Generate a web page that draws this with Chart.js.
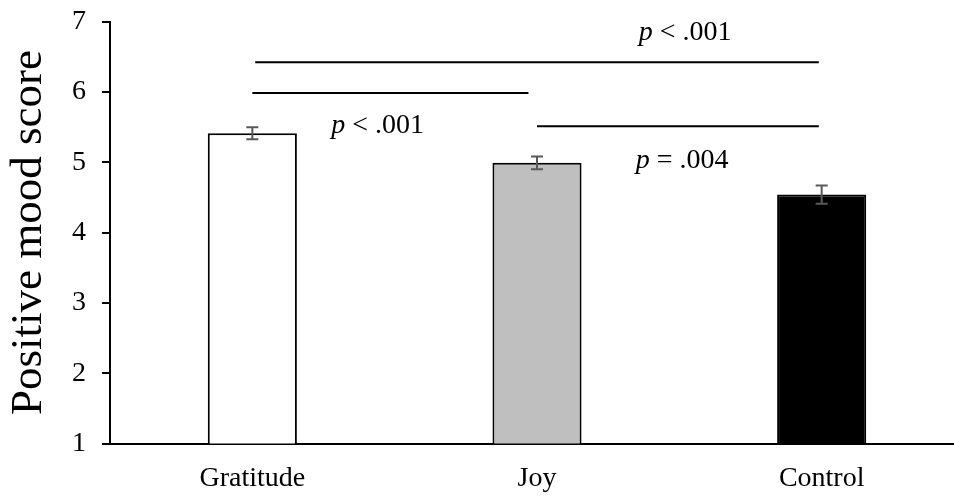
<!DOCTYPE html>
<html>
<head>
<meta charset="utf-8">
<script src="https://cdn.jsdelivr.net/npm/chart.js@4.4.1/dist/chart.umd.min.js"></script>
<style>
  html, body { margin: 0; padding: 0; background: #fff; overflow: hidden; }
  #wrap { position: relative; width: 964px; height: 496px; }
</style>
</head>
<body>
<div id="wrap"><canvas id="moodChart"></canvas></div>
<script>
const categories = ["Gratitude", "Joy", "Control"];
const meanScores = [5.41, 4.99, 4.54];
const errorMargins = [0.085, 0.09, 0.13];
const barFills = ["#ffffff", "#bfbfbf", "#000000"];
const yTicks = [1, 2, 3, 4, 5, 6, 7];

// comparison brackets: ends in category units, height in score units
const bracketFrom = [0.01, 0, 1];
const bracketTo = [1.99, 0.97, 1.99];
const bracketLevel = [6.42, 5.985, 5.51];

// significance labels (the leading "p" is set in italics)
const pLabels = ["< .001", "< .001", "= .004"];
const pLabelX = [1.52, 0.44, 1.51];
const pLabelY = [6.74, 5.41, 4.91];

const serif = '"Liberation Serif", "Times New Roman", serif';

const annotations = {
  id: "annotations",
  afterDatasetsDraw(chart) {
    const { ctx, scales: { x, y } } = chart;
    ctx.save();

    // error bars
    ctx.strokeStyle = "#595959";
    ctx.lineWidth = 2;
    meanScores.forEach((m, i) => {
      const cx = x.getPixelForValue(i);
      const top = y.getPixelForValue(m + errorMargins[i]);
      const bot = y.getPixelForValue(m - errorMargins[i]);
      ctx.beginPath();
      ctx.moveTo(cx, top); ctx.lineTo(cx, bot);
      ctx.moveTo(cx - 6, top); ctx.lineTo(cx + 6, top);
      ctx.moveTo(cx - 6, bot); ctx.lineTo(cx + 6, bot);
      ctx.stroke();
    });

    // brackets
    ctx.strokeStyle = "#000";
    ctx.lineWidth = 2;
    bracketLevel.forEach((lvl, i) => {
      const py = y.getPixelForValue(lvl);
      ctx.beginPath();
      ctx.moveTo(x.getPixelForValue(bracketFrom[i]), py);
      ctx.lineTo(x.getPixelForValue(bracketTo[i]), py);
      ctx.stroke();
    });

    // p values
    const italic = "italic 28px " + serif;
    const upright = "28px " + serif;
    ctx.fillStyle = "#000";
    ctx.textBaseline = "alphabetic";
    ctx.textAlign = "left";
    pLabels.forEach((txt, i) => {
      const rest = " " + txt;
      ctx.font = italic;
      const wp = ctx.measureText("p").width;
      ctx.font = upright;
      const wr = ctx.measureText(rest).width;
      const left = x.getPixelForValue(pLabelX[i]) - (wp + wr) / 2;
      const base = y.getPixelForValue(pLabelY[i]);
      ctx.font = italic;
      ctx.fillText("p", left, base);
      ctx.font = upright;
      ctx.fillText(rest, left + wp, base);
    });

    ctx.restore();
  }
};

new Chart(document.getElementById("moodChart"), {
  type: "bar",
  data: {
    labels: categories,
    datasets: [{
      data: meanScores,
      backgroundColor: barFills,
      borderColor: "#000",
      borderWidth: 2,
      barPercentage: 0.313,
      categoryPercentage: 1
    }]
  },
  options: {
    responsive: true,
    maintainAspectRatio: false,
    animation: false,
    layout: { padding: { top: 21.5, left: 0, right: 0, bottom: 0 } },
    plugins: { legend: { display: false }, tooltip: { enabled: false } },
    scales: {
      x: {
        grid: { display: false, drawTicks: false },
        border: { display: true, color: "#000", width: 2 },
        ticks: { color: "#000", font: { family: serif, size: 28 }, padding: 18 },
        afterFit: (s) => { s.height = 52.5; }
      },
      y: {
        min: 1,
        max: 7,
        afterBuildTicks: (s) => { s.ticks = yTicks.map((v) => ({ value: v })); },
        grid: { drawOnChartArea: false, drawTicks: true, tickLength: 8, color: "#000", lineWidth: 2 },
        border: { display: true, color: "#000", width: 2 },
        ticks: { color: "#000", font: { family: serif, size: 28 }, padding: 16 },
        title: {
          display: true,
          text: "Positive mood score",
          color: "#000",
          font: { family: serif, size: 45 },
          padding: { top: 2, bottom: 0 }
        },
        afterFit: (s) => {
          s.width = 110;
          // labels at the ends may overhang; the outer padding covers them
          s.paddingTop = 0;
          s.paddingBottom = 0;
        }
      }
    }
  },
  plugins: [annotations]
});
</script>
</body>
</html>
